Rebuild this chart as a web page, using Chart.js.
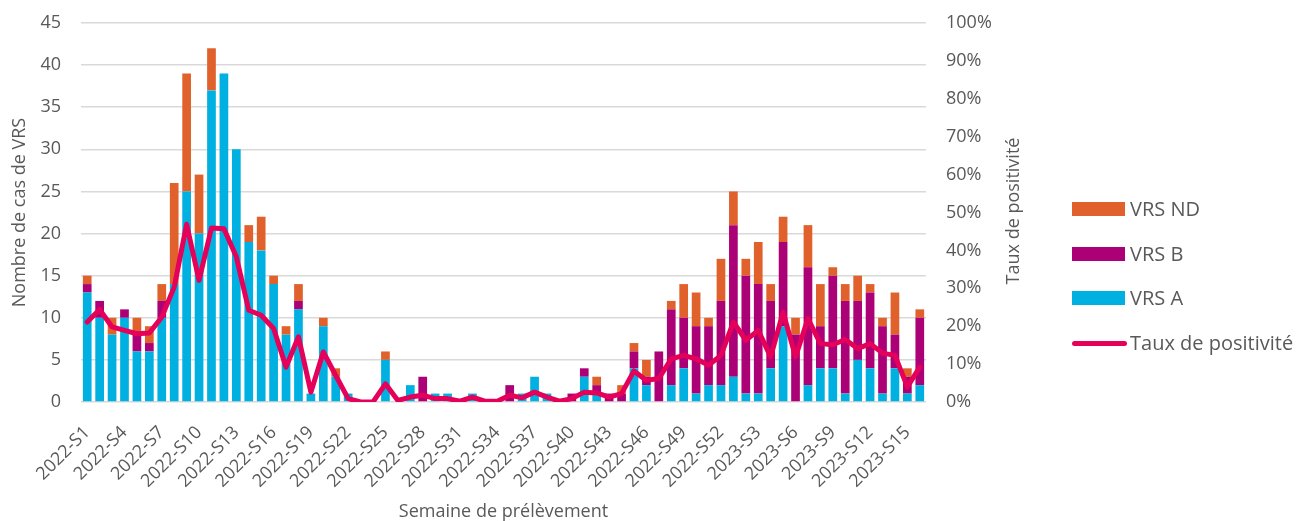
<!DOCTYPE html>
<html>
<head>
<meta charset="utf-8">
<script src="https://cdn.jsdelivr.net/npm/chart.js"></script>
<style>
  body { margin: 0; background: #fff; }
  .wrap { position: relative; width: 1301px; height: 521px; overflow: hidden; }
  .leg { position: absolute; left: 1072px; font-family: "Open Sans", sans-serif; font-size: 20px; color: #595959; }
  .leg span.box { position: absolute; left: 0; width: 53px; height: 14px; }
  .leg span.txt { position: absolute; left: 58px; white-space: nowrap; line-height: 20px; top: -10px; }
</style>
</head>
<body>
<div class="wrap">
  <canvas id="myChart" width="1301" height="521"></canvas>
  <div id="legend"></div>
</div>
<script>
  // semaines 2022-S1 .. 2023-S16
  var weeks = [];
  for (var i = 1; i <= 52; i++) weeks.push('2022-S' + i);
  for (var j = 1; j <= 16; j++) weeks.push('2023-S' + j);

  var vrsA = [13, 10, 8, 10, 6, 6, 10, 14, 25, 20, 37, 39, 30, 19, 18, 14, 8, 11, 1, 9,
              3, 1, 0, 0, 5, 0, 2, 0, 1, 1, 0, 1, 0, 0, 0, 1, 3, 1, 0, 0,
              3, 1, 0, 0, 4, 2, 0, 2, 4, 1, 2, 2, 3, 1, 1, 4, 9, 0, 2, 4,
              4, 1, 5, 4, 1, 4, 1, 2];
  var vrsB = [1, 2, 0, 1, 2, 1, 2, 0, 0, 0, 0, 0, 0, 0, 0, 0, 0, 1, 0, 0,
              0, 0, 0, 0, 0, 0, 0, 3, 0, 0, 0, 0, 0, 0, 2, 0, 0, 0, 0, 1,
              1, 1, 1, 1, 2, 1, 6, 9, 6, 8, 7, 10, 18, 14, 13, 8, 10, 8, 14, 5,
              11, 11, 7, 9, 8, 4, 2, 8];
  var vrsND = [1, 0, 2, 0, 2, 2, 2, 12, 14, 7, 5, 0, 0, 2, 4, 1, 1, 2, 0, 1,
               1, 0, 0, 0, 1, 0, 0, 0, 0, 0, 0, 0, 0, 0, 0, 0, 0, 0, 0, 0,
               0, 1, 0, 1, 1, 2, 0, 1, 4, 4, 1, 5, 4, 2, 5, 2, 3, 2, 5, 5,
               1, 2, 3, 1, 1, 5, 1, 1];
  // taux de positivité (%)
  var taux = [21.1, 24.4, 19.8, 18.9, 18.0, 18.2, 22.4, 30.3, 46.9, 32.1, 45.9, 45.7, 38.3, 24.2, 22.9, 19.4, 9.2, 17.2, 2.6, 13.2,
              7.0, 0.9, 0, 0, 4.8, 0.4, 1.3, 1.8, 0.9, 0.9, 0.2, 1.3, 0.2, 0.2, 1.8, 1.1, 2.6, 1.3, 0.2, 0.9,
              2.6, 2.4, 1.3, 2.2, 8.2, 5.7, 6.2, 11.4, 12.3, 11.4, 9.7, 12.3, 21.1, 16.3, 18.9, 11.9, 23.7, 11.9, 22.0, 15.4,
              15.1, 16.5, 14.1, 15.4, 12.9, 12.3, 4.0, 9.2];

  var colA = '#00B0E0', colB = '#AB0076', colND = '#E0612B', colTaux = '#E5005A';
  var grey = '#595959';
  var font = 'Open Sans';

  // titre de l'axe de droite (lu de bas en haut comme dans Excel)
  var rightTitle = {
    id: 'rightTitle',
    afterDraw: function (chart) {
      var c = chart.ctx;
      c.save();
      c.translate(1014, 211);
      c.rotate(-Math.PI / 2);
      c.font = '18px "' + font + '"';
      c.fillStyle = grey;
      c.textAlign = 'center';
      c.textBaseline = 'middle';
      c.fillText('Taux de positivité', 0, 0);
      c.restore();
    }
  };

  // largeurs / hauteurs fixes des axes pour caler la zone de tracé
  function fixPad(s) { s.paddingTop = 0; s.paddingBottom = 0; }

  var ctx = document.getElementById('myChart').getContext('2d');
  var myChart = new Chart(ctx, {
    type: 'bar',
    data: {
      labels: weeks,
      datasets: [
        { label: 'Taux de positivité', type: 'line', data: taux, yAxisID: 'y1', order: 0,
          borderColor: colTaux, backgroundColor: colTaux, borderWidth: 5, pointRadius: 0,
          tension: 0, borderJoinStyle: 'round', borderCapStyle: 'round' },
        { label: 'VRS A', data: vrsA, backgroundColor: colA, order: 1, stack: 's' },
        { label: 'VRS B', data: vrsB, backgroundColor: colB, order: 1, stack: 's' },
        { label: 'VRS ND', data: vrsND, backgroundColor: colND, order: 1, stack: 's' },
      ],
    },
    options: {
      responsive: false,
      animation: false,
      layout: { padding: { top: 23, bottom: 0, left: 0, right: 0 } },
      datasets: { bar: { barPercentage: 0.7, categoryPercentage: 1.0 } },
      plugins: { legend: { display: false }, tooltip: { enabled: false } },
      scales: {
        x: {
          stacked: true,
          grid: { display: false },
          border: { display: false },
          ticks: {
            autoSkip: false, maxRotation: 45, minRotation: 45, padding: 12,
            color: grey, font: { family: font, size: 18 },
            callback: function (v, i) { return i % 3 === 0 ? weeks[i] : ''; },
          },
          title: { display: true, text: 'Semaine de prélèvement', color: grey,
                   font: { family: font, size: 18 }, padding: { top: 0, bottom: -2 } },
          afterFit: function (s) { s.height = 119; },
        },
        y: {
          stacked: true, min: 0, max: 45,
          border: { display: false },
          grid: { color: '#d9d9d9', lineWidth: 1.5, drawTicks: false },
          ticks: { stepSize: 5, padding: 20, color: grey, font: { family: font, size: 18 } },
          title: { display: true, text: 'Nombre de cas de VRS', color: grey,
                   font: { family: font, size: 18 }, padding: { top: 9, bottom: 0 } },
          afterFit: function (s) { s.width = 81; fixPad(s); },
        },
        y1: {
          position: 'right', min: 0, max: 100,
          border: { display: false },
          grid: { drawOnChartArea: false, drawTicks: false, display: false },
          ticks: { stepSize: 10, padding: 20, color: grey, font: { family: font, size: 18 },
                   callback: function (v) { return v + '%'; } },
          afterFit: function (s) { s.width = 375; fixPad(s); },
        },
      },
    },
    plugins: [rightTitle],
  });

  // légende
  var legItems = [
    { t: 'VRS ND', c: colND, y: 209 },
    { t: 'VRS B', c: colB, y: 254 },
    { t: 'VRS A', c: colA, y: 298 },
    { t: 'Taux de positivité', c: colTaux, y: 343, line: true },
  ];
  var leg = document.getElementById('legend');
  legItems.forEach(function (it) {
    var d = document.createElement('div');
    d.className = 'leg';
    d.style.top = it.y + 'px';
    var b = document.createElement('span');
    b.className = 'box';
    b.style.background = it.c;
    if (it.line) { b.style.height = '5px'; b.style.top = '-2.5px'; b.style.borderRadius = '3px'; b.style.width = '55px'; }
    else { b.style.top = '-7px'; }
    var t = document.createElement('span');
    t.className = 'txt';
    t.textContent = it.t;
    d.appendChild(b);
    d.appendChild(t);
    leg.appendChild(d);
  });
</script>
</body>
</html>
